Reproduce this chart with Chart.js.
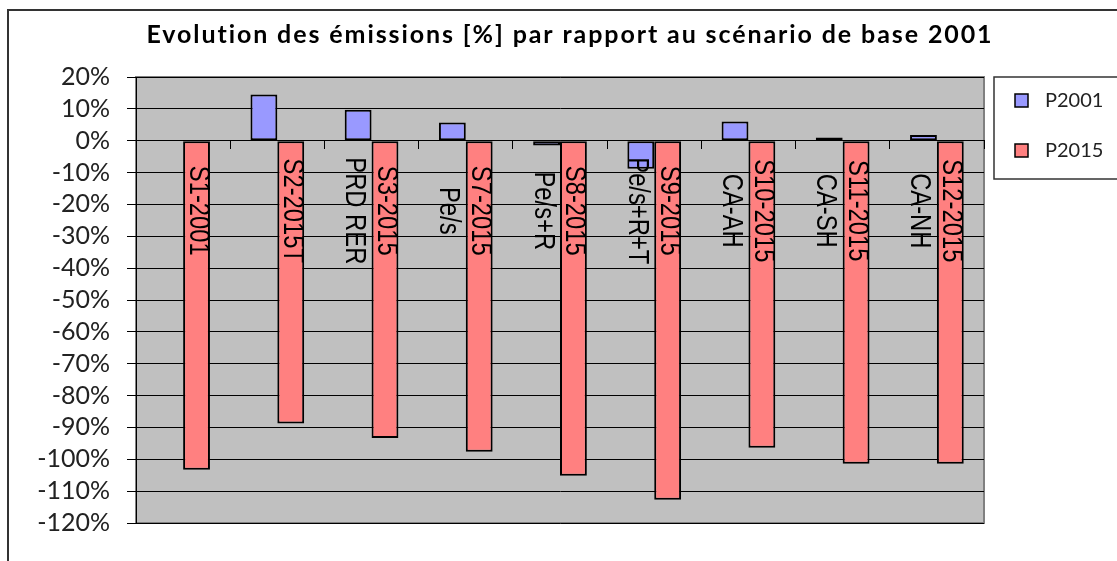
<!DOCTYPE html>
<html>
<head>
<meta charset="utf-8">
<script src="https://cdn.jsdelivr.net/npm/chart.js@4.4.1/dist/chart.umd.min.js"></script>
<style>
  html, body { margin: 0; padding: 0; background: #fff; }
  #wrap { width: 1117px; height: 561px; position: relative; }
</style>
</head>
<body>
<div id="wrap"><canvas id="emissions"></canvas></div>
<script>
// Scenario groups (one per category)
const scenarios = ['S1-2001', 'S2-2015T', 'S3-2015', 'S7-2015', 'S8-2015', 'S9-2015', 'S10-2015', 'S11-2015', 'S12-2015'];

// Values, in %
const p2001 = [0, 14.5, 9.7, 5.7, -1.5, -8.8, 6.0, 1.0, 1.8];
const p2015 = [-103.3, -88.8, -93.3, -97.6, -105.2, -112.7, -96.4, -101.4, -101.4];

// Text written on the bars
const p2001Notes = ['', '', 'PRD RER', 'Pe/s', 'Pe/s+R', 'Pe/s+R+T', 'CA-AH', 'CA-SH', 'CA-NH'];
const p2015Notes = ['S1-2001', 'S2-2015T', 'S3-2015', 'S7-2015', 'S8-2015', 'S9-2015', 'S10-2015', 'S11-2015', 'S12-2015'];

const chartTitle = 'Evolution des émissions [%] par rapport au scénario de base 2001';

// gray plot area + frame around the whole chart
const backdrop = {
    id: 'backdrop',
    beforeDraw(chart) {
        const { ctx, chartArea: a } = chart;
        ctx.save();
        ctx.fillStyle = '#c0c0c0';
        ctx.fillRect(a.left, a.top, a.right - a.left, a.bottom - a.top);
        ctx.strokeStyle = '#808080';
        ctx.lineWidth = 2;
        ctx.strokeRect(a.left, a.top, a.right - a.left, a.bottom - a.top);
        // outer frame (only left and top are inside the window)
        ctx.strokeStyle = '#333';
        ctx.lineWidth = 2;
        ctx.beginPath();
        ctx.moveTo(8, chart.height + 5);
        ctx.lineTo(8, 10);
        ctx.lineTo(chart.width + 5, 10);
        ctx.stroke();
        ctx.restore();
    },
    afterDraw(chart) {
        const { ctx, chartArea: a } = chart;
        ctx.save();
        // title
        ctx.fillStyle = '#000';
        ctx.font = 'bold 25px Lato, "DejaVu Sans", sans-serif';
        ctx.letterSpacing = '1.9px';
        ctx.textAlign = 'center';
        ctx.textBaseline = 'alphabetic';
        ctx.fillText(chartTitle, (a.left + a.right) / 2 + 10, 43);
        ctx.letterSpacing = '0px';

        // legend box
        const lx = a.right + 10, ly = a.top;
        ctx.strokeStyle = '#333';
        ctx.lineWidth = 1.5;
        ctx.strokeRect(lx, ly, chart.width - lx + 5, 102);
        chart.data.datasets.forEach((ds, i) => {
            const cy = ly + 23 + i * 50;
            ctx.fillStyle = ds.backgroundColor;
            ctx.fillRect(lx + 21, cy - 6, 13, 13);
            ctx.strokeStyle = '#000';
            ctx.lineWidth = 1.5;
            ctx.strokeRect(lx + 21, cy - 6, 13, 13);
            ctx.fillStyle = '#222';
            ctx.font = '20px Lato, "DejaVu Sans", sans-serif';
            ctx.textAlign = 'left';
            ctx.textBaseline = 'middle';
            ctx.fillText(ds.label, lx + 51, cy + 1);
        });
        ctx.restore();
    }
};

// rotated labels written down the bars
const barNotes = {
    id: 'barNotes',
    afterDatasetsDraw(chart, args, opts) {
        const { ctx } = chart;
        const y = chart.scales.y.getPixelForValue(opts.level);
        ctx.save();
        ctx.fillStyle = '#000';
        ctx.font = '29px "Liberation Sans", Arial, sans-serif';
        ctx.textAlign = 'center';
        ctx.textBaseline = 'middle';
        chart.data.datasets.forEach((ds, di) => {
            const meta = chart.getDatasetMeta(di);
            meta.data.forEach((bar, i) => {
                const txt = ds.notes[i];
                if (!txt) return;
                ctx.save();
                ctx.translate(bar.x + opts.shift[di], y);
                ctx.rotate(Math.PI / 2);
                ctx.scale(0.82, 1); // narrow lettering
                ctx.fillText(txt, 0, 0);
                ctx.restore();
            });
        });
        ctx.restore();
    }
};

new Chart(document.getElementById('emissions').getContext('2d'), {
    type: 'bar',
    data: {
        labels: scenarios,
        datasets: [{
            label: 'P2001',
            data: p2001,
            notes: p2001Notes,
            backgroundColor: '#9999ff',
            borderColor: '#000',
            borderWidth: 2,
            borderSkipped: false
        }, {
            label: 'P2015',
            data: p2015,
            notes: p2015Notes,
            backgroundColor: '#ff8080',
            borderColor: '#000',
            borderWidth: 2,
            borderSkipped: false
        }]
    },
    options: {
        responsive: true,
        maintainAspectRatio: false,
        animation: false,
        categoryPercentage: 0.57,
        barPercentage: 1,
        layout: { padding: { top: 77, right: 133, bottom: 38, left: 0 } },
        plugins: {
            legend: { display: false },
            tooltip: { enabled: false },
            barNotes: { level: -22, shift: [-4, 1] }
        },
        scales: {
            x: {
                position: { y: 0 },
                ticks: { display: false },
                grid: {
                    offset: true,
                    drawOnChartArea: false,
                    drawTicks: true,
                    tickLength: 8,
                    color: '#000'
                },
                border: { display: true, color: '#000', width: 1 }
            },
            y: {
                min: -120,
                max: 20,
                afterFit(scale) { scale.width = 136; },
                ticks: {
                    stepSize: 10,
                    autoSkip: false,
                    padding: 17,
                    color: '#222',
                    font: { family: 'Lato, "DejaVu Sans", sans-serif', size: 25 },
                    callback: v => v + '%'
                },
                grid: {
                    color: '#000',
                    lineWidth: 1,
                    tickLength: 9,
                    drawTicks: true
                },
                border: { display: true, color: '#000', width: 1 }
            }
        }
    },
    plugins: [backdrop, barNotes]
});
</script>
</body>
</html>
